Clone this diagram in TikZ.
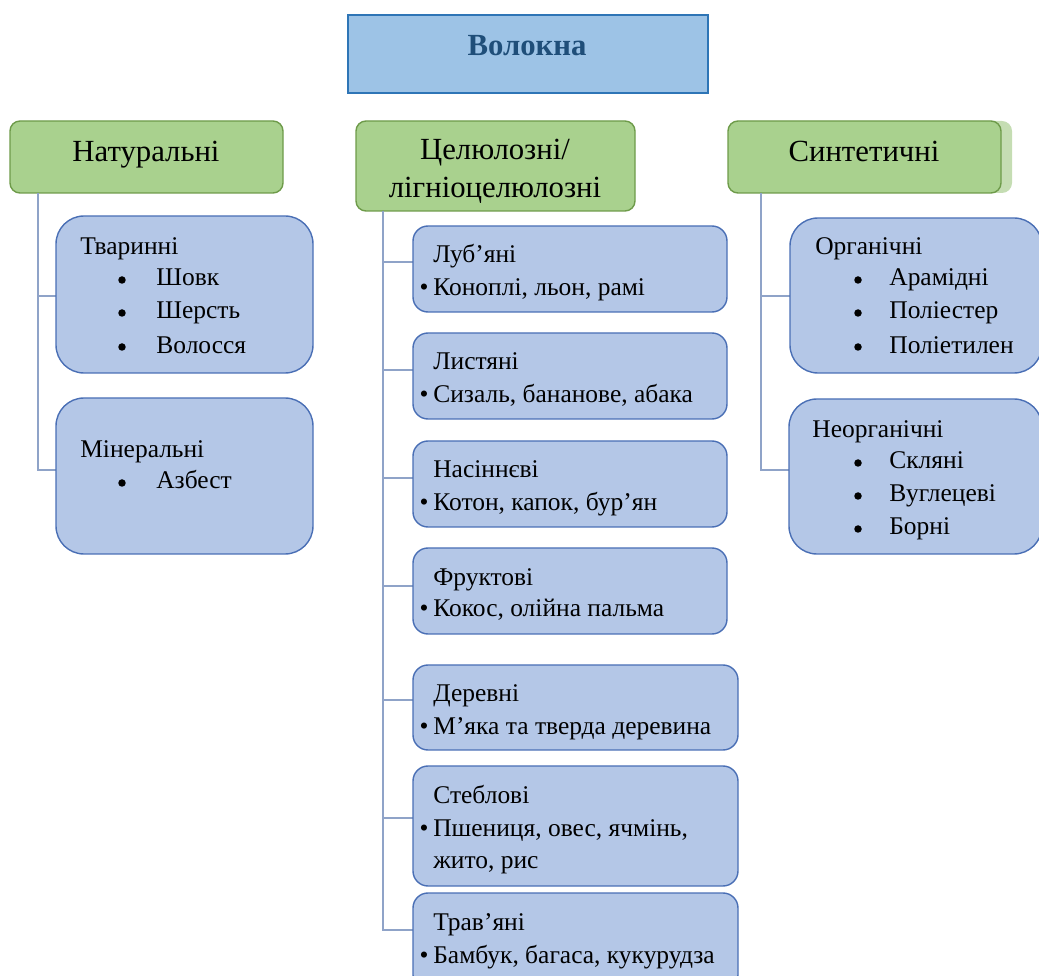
\documentclass[tikz,border=0pt]{standalone}
\usepackage{fontspec}
\setmainfont{Liberation Serif}
\usetikzlibrary{fit}
\definecolor{titlefill}{HTML}{9DC3E6}
\definecolor{titledraw}{HTML}{2E75B6}
\definecolor{titletext}{HTML}{1F4E79}
\definecolor{greenfill}{HTML}{A9D18E}
\definecolor{greendraw}{HTML}{6E9B4A}
\definecolor{greenshade}{HTML}{C5DDB3}
\definecolor{bluefill}{HTML}{B4C7E7}
\definecolor{bluedraw}{HTML}{4A6FB5}
\definecolor{connline}{HTML}{8FA3C8}
\tikzset{
  titlebox/.style={draw=titledraw, fill=titlefill, line width=0.9pt, inner sep=0pt},
  headbox/.style={draw=greendraw, fill=greenfill, line width=0.8pt, rounded corners=0.2cm, inner sep=0pt},
  bigbox/.style={draw=bluedraw, fill=bluefill, line width=0.8pt, rounded corners=0.56cm, inner sep=0pt},
  smallbox/.style={draw=bluedraw, fill=bluefill, line width=0.8pt, rounded corners=0.3cm, inner sep=0pt},
  conn/.style={draw=connline, line width=1.1pt},
  headtxt/.style={inner sep=0pt, anchor=base, font=\fontsize{17.5}{21.5}\selectfont},
  txt/.style={inner sep=0pt, anchor=base west, font=\fontsize{14.5}{19}\selectfont},
  dot/.style={inner sep=0pt, anchor=base, font=\fontsize{14.5}{19}\selectfont},
  bigdot/.style={fill=black, circle, inner sep=0pt, minimum size=0.15cm}
}
\begin{document}
\begin{tikzpicture}[x=0.02cm, y=-0.02cm]
        \clip (0,0) rectangle (1039,976);
        
        % Drawing title box
        \node [titlebox, fit={(348,15) (708,93)}] (vol) {};
        \node [headtxt, font=\fontsize{17.5}{21.5}\selectfont\bfseries, text=titletext] (voltxt) at (527,56) {Волокна};
        
        % Drawing head boxes
        \node [headbox, fit={(10,121) (283,193)}] (nat) {};
        \node [headtxt] (nattxt) at (146,162) {Натуральні};
        \node [headbox, fit={(356,121) (635,211)}] (cel) {};
        \node [headtxt] (celtxt1) at (495,160) {Целюлозні/};
        \node [headtxt] (celtxt2) at (495,198) {лігніоцелюлозні};
        \fill [greenshade, rounded corners=0.2cm] (740,121) rectangle (1012,193);
        \node [headbox, fit={(728,121) (1001,193)}] (syn) {};
        \node [headtxt] (syntxt) at (864,162) {Синтетичні};
        
        % Trunk roots
        \coordinate (natroot) at (38,193);
        \coordinate (celroot) at (383,211);
        \coordinate (synroot) at (761,193);
        
        % Drawing natural fibres
        \draw [conn] (natroot) |- (56,296);
        \draw [conn] (natroot) |- (56,470);
        \node [bigbox, fit={(56,216) (313,373)}] (tvar) {};
        \node [txt] (tvar0) at (80,255) {Тваринні};
        \node [bigdot] at (122,280) {};
        \node [txt] (tvar1) at (156,286) {Шовк};
        \node [bigdot] at (122,313) {};
        \node [txt] (tvar2) at (156,319) {Шерсть};
        \node [bigdot] at (122,347) {};
        \node [txt] (tvar3) at (156,354) {Волосся};
        \node [bigbox, fit={(56,398) (313,554)}] (min) {};
        \node [txt] (min0) at (80,458) {Мінеральні};
        \node [bigdot] at (122,483) {};
        \node [txt] (min1) at (156,489) {Азбест};
        
        % Drawing cellulose fibres
        \draw [conn] (celroot) |- (413,262);
        \draw [conn] (celroot) |- (413,370);
        \draw [conn] (celroot) |- (413,478);
        \draw [conn] (celroot) |- (413,586);
        \draw [conn] (celroot) |- (413,700);
        \draw [conn] (celroot) |- (413,818);
        \draw [conn] (celroot) |- (413,930);
        \node [smallbox, fit={(413,226) (727,312)}] (lub) {};
        \node [txt] (lub0) at (433,263) {Луб’яні};
        \node [dot] at (424,296) {•};
        \node [txt] (lub1) at (433,296) {Коноплі, льон, рамі};
        \node [smallbox, fit={(413,333) (727,419)}] (lys) {};
        \node [txt] (lys0) at (433,370) {Листяні};
        \node [dot] at (424,403) {•};
        \node [txt] (lys1) at (433,403) {Сизаль, бананове, абака};
        \node [smallbox, fit={(413,441) (727,527)}] (nas) {};
        \node [txt] (nas0) at (433,478) {Насіннєві};
        \node [dot] at (424,511) {•};
        \node [txt] (nas1) at (433,511) {Котон, капок, бур’ян};
        \node [smallbox, fit={(413,548) (727,634)}] (fru) {};
        \node [txt] (fru0) at (433,586) {Фруктові};
        \node [dot] at (424,617) {•};
        \node [txt] (fru1) at (433,617) {Кокос, олійна пальма};
        \node [smallbox, fit={(413,665) (738,750)}] (der) {};
        \node [txt] (der0) at (433,702) {Деревні};
        \node [dot] at (424,735) {•};
        \node [txt] (der1) at (433,735) {М’яка та тверда деревина};
        \node [smallbox, fit={(413,766) (738,886)}] (ste) {};
        \node [txt] (ste0) at (433,804) {Стеблові};
        \node [dot] at (424,836) {•};
        \node [txt] (ste1) at (433,836) {Пшениця, овес, ячмінь,};
        \node [txt] (ste2) at (433,868) {жито, рис};
        \node [smallbox, fit={(413,893) (738,990)}] (tra) {};
        \node [txt] (tra0) at (433,930) {Трав’яні};
        \node [dot] at (424,963) {•};
        \node [txt] (tra1) at (433,963) {Бамбук, багаса, кукурудза};
        
        % Drawing synthetic fibres
        \draw [conn] (synroot) |- (790,296);
        \draw [conn] (synroot) |- (790,470);
        \node [bigbox, fit={(790,218) (1042,373)}] (org) {};
        \node [txt] (org0) at (815,255) {Органічні};
        \node [bigdot] at (858,280) {};
        \node [txt] (org1) at (889,286) {Арамідні};
        \node [bigdot] at (858,313) {};
        \node [txt] (org2) at (889,319) {Поліестер};
        \node [bigdot] at (858,347) {};
        \node [txt] (org3) at (889,354) {Поліетилен};
        \node [bigbox, fit={(789,399) (1042,554)}] (neo) {};
        \node [txt] (neo0) at (812,438) {Неорганічні};
        \node [bigdot] at (858,463) {};
        \node [txt] (neo1) at (889,469) {Скляні};
        \node [bigdot] at (858,496) {};
        \node [txt] (neo2) at (889,502) {Вуглецеві};
        \node [bigdot] at (858,529) {};
        \node [txt] (neo3) at (889,535) {Борні};
    \end{tikzpicture}
\end{document}
